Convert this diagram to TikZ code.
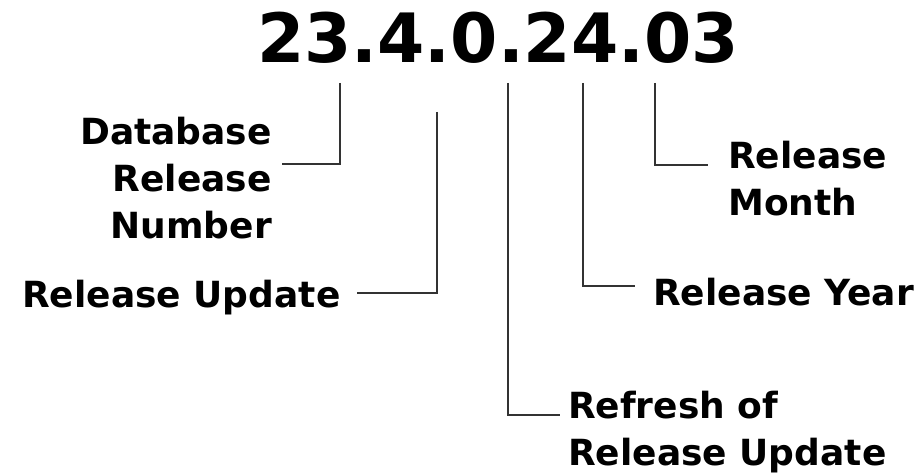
\documentclass[tikz,border=0pt]{standalone}
\usepackage{fontspec}
\setmainfont{DejaVu Sans}
\usetikzlibrary{positioning}

\begin{document}
\begin{tikzpicture}[x=1pt, y=-1pt,
  lbl/.style={font=\bfseries\fontsize{36}{47}\selectfont, inner sep=0pt, text=black},
  link/.style={draw=black!80, line width=2.4pt}]

\useasboundingbox (0,0) rectangle (919,476);

\node[inner sep=0pt, anchor=base] (V) at (498,63)
  {\fontsize{68}{68}\selectfont\bfseries 23.4.0.24.03};

\node[lbl, anchor=base east, align=right] (DBN) at (272,238) {Database\\Release\\Number};
\node[lbl, anchor=base west] (RU)  at (22,307)  {Release Update};
\node[lbl, anchor=base west, align=left] (RRU) at (568,465) {Refresh of\\Release Update};
\node[lbl, anchor=base west] (RY)  at (653,305) {Release Year};
\node[lbl, anchor=base west, align=left] (RM)  at (728,215) {Release\\Month};

% tick tops under the version string
\coordinate (dbn top) at (340,83);
\coordinate (ru top)  at (437,112);
\coordinate (rru top) at (508,83);
\coordinate (ry top)  at (583,83);
\coordinate (rm top)  at (655,83);

% free ends next to the labels
\coordinate (dbn end) at (282,164);
\coordinate (ru end)  at (357,293);
\coordinate (rru end) at (560,415);
\coordinate (ry end)  at (635,286);
\coordinate (rm end)  at (708,165);

\draw[link] (dbn top) |- (dbn end);
\draw[link] (ru top)  |- (ru end);
\draw[link] (rru top) |- (rru end);
\draw[link] (ry top)  |- (ry end);
\draw[link] (rm top)  |- (rm end);

\end{tikzpicture}
\end{document}
